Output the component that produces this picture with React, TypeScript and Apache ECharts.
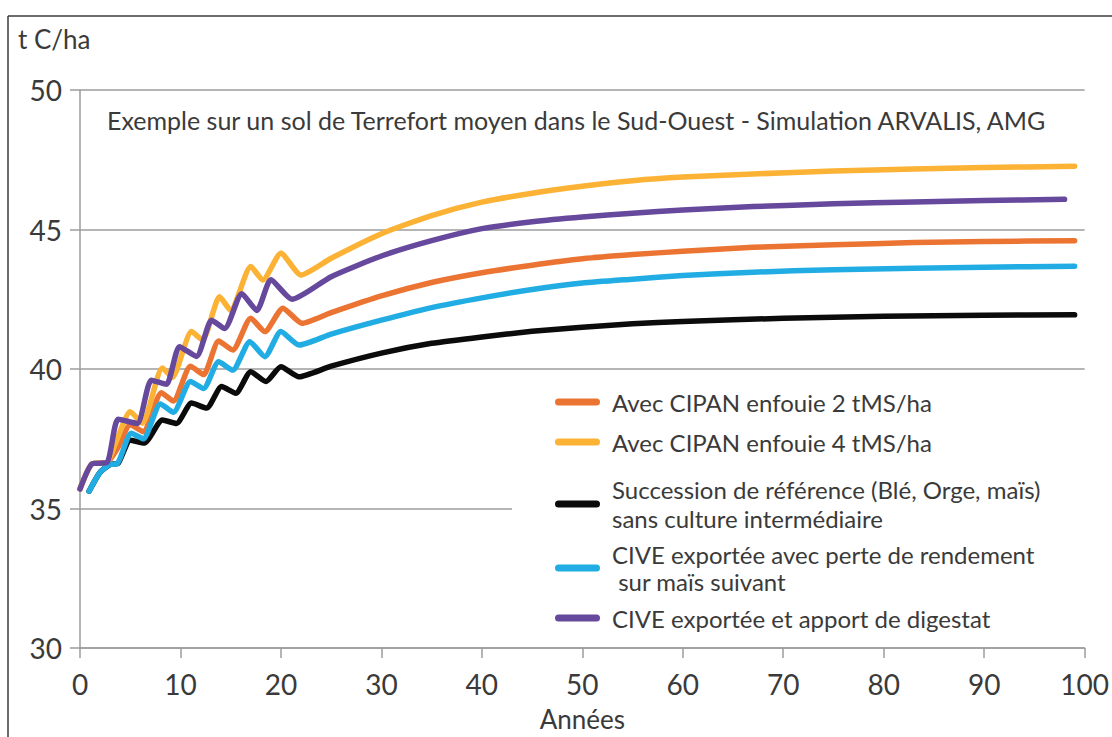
import React, { useEffect, useRef } from "react";
import * as echarts from "echarts";

const FONT = "Lato, 'Noto Sans', sans-serif";
const TEXT_COLOR = "#3a3a3a";
const GRID_COLOR = "#9c9c9c";

const yAxisTitle = "t C/ha";
const xAxisTitle = "Années";
const subtitle =
  "Exemple sur un sol de Terrefort moyen dans le Sud-Ouest - Simulation ARVALIS, AMG";

const xTicks = { min: 0, max: 100, interval: 10 };
const yTicks = { min: 30, max: 50, interval: 5 };

const seriesNames = [
  "Succession de référence (Blé, Orge, maïs) sans culture intermédiaire",
  "Avec CIPAN enfouie 2 tMS/ha",
  "Avec CIPAN enfouie 4 tMS/ha",
  "CIVE exportée avec perte de rendement sur maïs suivant",
  "CIVE exportée et apport de digestat",
];

const legendLines: Record<string, string> = {
  "Avec CIPAN enfouie 2 tMS/ha": "Avec CIPAN enfouie 2 tMS/ha",
  "Avec CIPAN enfouie 4 tMS/ha": "Avec CIPAN enfouie 4 tMS/ha",
  "Succession de référence (Blé, Orge, maïs) sans culture intermédiaire":
    "Succession de référence (Blé, Orge, maïs)\nsans culture intermédiaire",
  "CIVE exportée avec perte de rendement sur maïs suivant":
    "CIVE exportée avec perte de rendement\n sur maïs suivant",
  "CIVE exportée et apport de digestat": "CIVE exportée et apport de digestat",
};

const seriesColors = ["#0b0b0b", "#ec7432", "#fbb235", "#21ade4", "#66489c"];

// [year, t C/ha]
const reference: [number, number][] = [
  [0.9, 35.62], [2.0, 36.3], [3.0, 36.58], [3.8, 36.62], [5.0, 37.45], [6.4, 37.35],
  [8.2, 38.17], [9.6, 38.05], [11.1, 38.78], [12.6, 38.6], [14.1, 39.37], [15.5, 39.13],
  [17.0, 39.9], [18.5, 39.55], [20.0, 40.08], [21.8, 39.72], [25, 40.1], [30, 40.57],
  [35, 40.92], [40, 41.15], [45, 41.35], [50, 41.5], [55, 41.62], [60, 41.7],
  [70, 41.82], [80, 41.89], [90, 41.93], [99, 41.94],
];

const cipan2: [number, number][] = [
  [0, 35.7], [1.2, 36.6], [2.7, 36.65], [3.8, 37.2], [5.0, 38.0], [6.3, 37.75],
  [8.1, 39.15], [9.3, 38.85], [11.0, 40.1], [12.3, 39.8], [13.8, 41.0], [15.2, 40.68],
  [17.0, 41.82], [18.4, 41.34], [20.2, 42.18], [22.1, 41.64], [25, 42.02], [30, 42.62],
  [35, 43.1], [40, 43.45], [45, 43.72], [50, 43.95], [55, 44.1], [60, 44.22],
  [67, 44.36], [75, 44.45], [83, 44.53], [90, 44.57], [99, 44.6],
];

const cipan4: [number, number][] = [
  [0, 35.7], [1.2, 36.6], [2.7, 36.65], [3.6, 37.4], [5.0, 38.47], [6.2, 38.06],
  [8.2, 40.04], [9.2, 39.7], [11.1, 41.34], [12.2, 41.04], [13.9, 42.59], [15.0, 42.1],
  [17.0, 43.67], [18.2, 43.19], [20.0, 44.15], [22.0, 43.37], [25, 43.97], [30, 44.85],
  [35, 45.5], [40, 45.98], [45, 46.3], [50, 46.55], [55, 46.75], [60, 46.88],
  [67, 46.99], [75, 47.1], [83, 47.17], [90, 47.22], [99, 47.27],
];

const civeLoss: [number, number][] = [
  [0.9, 35.62], [2.0, 36.3], [3.0, 36.58], [3.7, 36.6], [5.1, 37.7], [6.3, 37.5],
  [8.0, 38.75], [9.3, 38.45], [11.0, 39.55], [12.3, 39.3], [13.8, 40.26], [15.2, 39.96],
  [16.9, 40.98], [18.4, 40.44], [20.0, 41.34], [21.8, 40.86], [25, 41.25], [30, 41.75],
  [35, 42.2], [40, 42.55], [45, 42.85], [50, 43.08], [55, 43.22], [60, 43.35],
  [67, 43.47], [75, 43.56], [83, 43.61], [90, 43.65], [99, 43.68],
];

const civeDigestat: [number, number][] = [
  [0, 35.7], [1.2, 36.6], [2.7, 36.65], [3.8, 38.2], [5.7, 38.05], [7.1, 39.6],
  [8.6, 39.45], [9.9, 40.8], [11.6, 40.45], [13.1, 41.75], [14.4, 41.45], [16.1, 42.7],
  [17.6, 42.1], [19.0, 43.2], [21.1, 42.5], [25, 43.31], [30, 44.05], [35, 44.6],
  [40, 45.03], [45, 45.28], [50, 45.45], [55, 45.58], [60, 45.7], [67, 45.82],
  [75, 45.92], [83, 45.99], [90, 46.04], [98, 46.08],
];

const seriesData = [reference, cipan2, cipan4, civeLoss, civeDigestat];

// legend order as shown, with placement
const legendOrder = [1, 2, 0, 3, 4];
const legendTops = [388, 428, 475, 541, 604];
const legendLineHeights = [28, 28, 29, 27, 28];

const ICON =
  "path://M3.5,0 L41.5,0 A3.5,3.5 0 0 1 41.5,7 L3.5,7 A3.5,3.5 0 0 1 3.5,0 Z";

export default function App() {
  const ref = useRef<HTMLDivElement>(null);

  useEffect(() => {
    if (!ref.current) return;
    const chart = echarts.init(ref.current, undefined, { renderer: "svg" });

    const option: any = {
      animation: false,
      backgroundColor: "#ffffff",
      title: [
        {
          text: yAxisTitle,
          left: 18,
          top: 26,
          padding: 0,
          textStyle: { fontFamily: FONT, fontSize: 26, fontWeight: "normal", color: TEXT_COLOR },
        },
        {
          text: subtitle,
          left: 107,
          top: 107,
          padding: 0,
          textStyle: { fontFamily: FONT, fontSize: 25, fontWeight: "normal", color: TEXT_COLOR },
        },
      ],
      grid: { left: 80, right: 24, top: 90, bottom: 89 },
      xAxis: {
        type: "value",
        min: xTicks.min,
        max: xTicks.max,
        interval: xTicks.interval,
        name: xAxisTitle,
        nameLocation: "middle",
        nameGap: 58,
        nameTextStyle: { fontFamily: FONT, fontSize: 26, color: TEXT_COLOR },
        axisLine: { show: true, lineStyle: { color: GRID_COLOR, width: 1.5 } },
        axisTick: { show: true, length: 10, lineStyle: { color: GRID_COLOR, width: 1.5 } },
        axisLabel: { margin: 22, fontFamily: FONT, fontSize: 28, color: TEXT_COLOR },
        splitLine: { show: false },
      },
      yAxis: {
        type: "value",
        min: yTicks.min,
        max: yTicks.max,
        interval: yTicks.interval,
        axisLine: { show: true, lineStyle: { color: GRID_COLOR, width: 1.5 } },
        axisTick: { show: true, length: 10, lineStyle: { color: GRID_COLOR, width: 1.5 } },
        axisLabel: { margin: 18, fontFamily: FONT, fontSize: 28, color: TEXT_COLOR },
        splitLine: { show: true, lineStyle: { color: GRID_COLOR, width: 1.5 } },
      },
      legend: legendOrder.map((si, k) => ({
        data: [seriesNames[si]],
        left: 555,
        top: legendTops[k],
        padding: 0,
        orient: "vertical",
        icon: ICON,
        itemWidth: 45,
        itemHeight: 7,
        selectedMode: false,
        formatter: (n: string) => legendLines[n] ?? n,
        textStyle: {
          fontFamily: FONT,
          fontSize: 24,
          color: TEXT_COLOR,
          lineHeight: legendLineHeights[k],
          padding: [0, 0, 0, 7],
        },
      })),
      graphic: [
        {
          type: "rect",
          z: 1,
          shape: { x: 512, y: 380, width: 580, height: 258 },
          style: { fill: "#ffffff" },
          silent: true,
        },
        {
          type: "line",
          z: 10,
          shape: { x1: 8, y1: 16, x2: 1112, y2: 16 },
          style: { stroke: "#3c3c3c", lineWidth: 1.5 },
          silent: true,
        },
        {
          type: "line",
          z: 10,
          shape: { x1: 8, y1: 16, x2: 8, y2: 737 },
          style: { stroke: "#3c3c3c", lineWidth: 1.5 },
          silent: true,
        },
      ],
      series: seriesData.map((d, i) => ({
        type: "line",
        name: seriesNames[i],
        data: d,
        showSymbol: false,
        symbol: "none",
        smooth: 0.2,
        color: seriesColors[i],
        lineStyle: { width: 5.5, color: seriesColors[i], cap: "round", join: "round" },
        z: 2 + i,
      })),
    };

    chart.setOption(option);
    return () => chart.dispose();
  }, []);

  return (
    <div
      ref={ref}
      style={{ position: "absolute", left: 0, top: 0, width: 1112, height: 737 }}
    />
  );
}
